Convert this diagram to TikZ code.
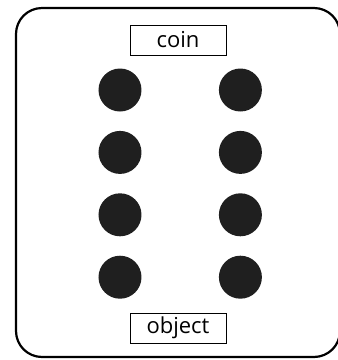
\documentclass[tikz,border=0pt]{standalone}
\usepackage{fontspec}
\setmainfont{Open Sans}
\usetikzlibrary{positioning}

\begin{document}
\begin{tikzpicture}[
    x=1pt, y=-1pt,
    node distance=19pt and 77pt,
    frame/.style={draw, line width=2.2pt, rounded corners=26pt},
    tag/.style={rectangle, draw, line width=0.8pt, minimum width=96pt, minimum height=30pt, inner sep=0pt, font=\fontsize{22}{24}\selectfont},
    dot/.style={circle, fill=black!88, minimum size=43pt, inner sep=0pt}
]
    \useasboundingbox (0,0) rectangle (338,360);
    \draw [frame] (16,8) rectangle (340,357);

    \node [tag] (coin) at (178,40) {coin};
    \node [tag] (object) at (178,328) {object};

    \node [dot] (l1) at (120,90) {};
    \node [dot, below=of l1] (l2) {};
    \node [dot, below=of l2] (l3) {};
    \node [dot, below=of l3] (l4) {};
    \node [dot, right=of l1] (r1) {};
    \node [dot, right=of l2] (r2) {};
    \node [dot, right=of l3] (r3) {};
    \node [dot, right=of l4] (r4) {};
\end{tikzpicture}
\end{document}
